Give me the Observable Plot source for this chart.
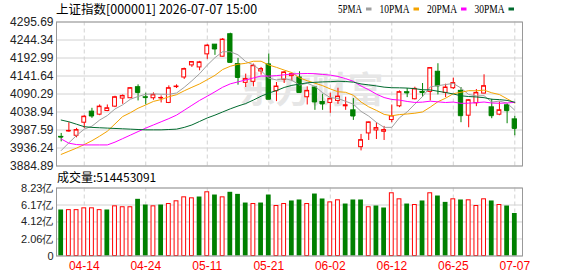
<!DOCTYPE html>
<html><head><meta charset="utf-8">
<script src="https://cdn.jsdelivr.net/npm/d3@7"></script>
<script src="https://cdn.jsdelivr.net/npm/@observablehq/plot@0.6"></script>
<style>
body{margin:0;background:#fff;}
#wrap{position:relative;width:578px;height:276px;overflow:hidden;background:#fff;}
#wrap svg{position:absolute;left:0;}
</style></head><body><div id="wrap"></div>
<script>
// ---------- data ----------
const title = "上证指数[000001] 2026-07-07 15:00";
const volLabel = "成交量:514453091";
const watermark = "东方财富";
const dates = ["04-09","04-10","04-13","04-14","04-15","04-16","04-17","04-20","04-21","04-22",
"04-23","04-24","04-27","04-28","04-29","04-30","05-06","05-07","05-08","05-11",
"05-12","05-13","05-14","05-15","05-18","05-19","05-20","05-21","05-22","05-25",
"05-26","05-27","05-28","05-29","06-01","06-02","06-03","06-04","06-05","06-08",
"06-09","06-10","06-11","06-12","06-15","06-16","06-17","06-18","06-22","06-23",
"06-24","06-25","06-26","06-29","06-30","07-01","07-02","07-03","07-06","07-07"];
const xTickLabels = ["04-14","04-24","05-11","05-21","06-02","06-12","06-25","07-07"];
const yTicks = [3884.89,3936.24,3987.59,4038.94,4090.29,4141.64,4192.99,4244.34,4295.69];
const volTicks = [0,2.06,4.12,6.17,8.23];
const volTickLabels = ["0","2.06亿","4.12亿","6.17亿","8.23亿"];

const open = [3968.0,3984.0,3971.1,4008.4,4039.9,4031.3,4041.8,4054.2,4077.2,4078.2,
4109.7,4081.0,4078.2,4078.5,4064.8,4110.0,4137.4,4171.9,4166.1,4203.4,
4231.1,4196.7,4260.8,4175.7,4122.1,4125.0,4154.6,4174.7,4098.2,4130.7,
4141.3,4137.4,4081.0,4108.8,4067.6,4064.8,4070.5,4055.2,4043.7,3938.6,
3977.8,3986.3,3982.5,4016.0,4055.2,4095.4,4075.3,4096.3,4096.3,4153.7,
4093.4,4106.8,4099.2,4028.4,4063.8,4091.5,4052.3,4031.3,4058.1,4017.9];
const high = [3977.8,4008.4,3992.1,4028.4,4049.5,4059.0,4059.0,4083.9,4087.7,4108.8,
4116.4,4092.5,4093.5,4084.8,4113.5,4116.4,4164.2,4182.4,4183.3,4231.1,
4231.5,4248.4,4263.7,4191.9,4147.0,4175.7,4166.1,4204.4,4123.1,4154.6,
4148.9,4153.7,4110.7,4111.6,4089.6,4092.5,4106.8,4081.0,4077.2,3974.9,
4010.3,4008.4,3997.8,4059.0,4099.2,4105.9,4109.7,4120.2,4165.2,4176.6,
4118.3,4135.5,4108.8,4074.3,4103.0,4145.1,4075.3,4067.6,4061.0,4026.5];
const low = [3953.8,3981.6,3965.3,3992.1,4020.8,4028.4,4039.9,4051.4,4060.9,4077.2,
4070.5,4059.0,4072.4,4064.8,4062.9,4105.9,4131.7,4166.1,4156.6,4189.1,
4200.5,4195.8,4179.5,4115.4,4108.8,4110.7,4144.1,4074.3,4068.6,4120.2,
4126.9,4093.4,4059.0,4043.7,4043.7,4035.1,4060.9,4043.7,4015.0,3928.0,
3957.7,3960.5,3957.7,4008.4,4051.4,4080.0,4073.4,4081.0,4070.5,4087.7,
4080.0,4103.0,4008.4,3994.0,4054.2,4090.6,4019.8,4028.4,4005.5,3971.1];
const close = [3967.2,3985.0,3987.3,4025.6,4027.5,4054.2,4049.5,4081.0,4084.8,4106.8,
4094.4,4080.0,4087.7,4079.0,4106.8,4111.6,4161.3,4181.4,4180.5,4228.3,
4218.7,4245.5,4180.5,4137.4,4132.7,4170.9,4161.3,4075.3,4111.6,4151.8,
4147.0,4094.4,4099.2,4067.6,4061.9,4076.2,4082.9,4058.1,4027.5,3958.6,
4009.3,3993.0,3987.3,4027.5,4095.4,4093.4,4104.9,4094.4,4164.2,4113.5,
4108.8,4121.2,4028.4,4072.4,4093.4,4112.6,4028.4,4043.7,4042.8,3992.1];
// volume in 亿 (1e8 shares)
const volume = [5.57,5.55,5.55,5.77,5.77,5.55,5.57,6.01,5.90,5.90,
6.86,6.17,6.01,6.17,6.29,6.62,7.10,6.98,7.14,7.71,
7.38,7.10,7.71,7.46,6.41,6.29,6.41,7.38,6.05,6.29,
6.66,6.78,6.29,7.50,6.90,6.49,6.74,6.29,6.78,6.78,
5.90,6.05,5.81,7.59,6.86,6.29,6.17,6.66,7.59,7.26,
6.49,6.86,6.78,6.74,6.05,6.86,6.66,6.17,6.05,5.1445];
const ma5 = [3929,3951,3972,3990,3998.5,4015.9,4028.8,4047.6,4059.4,4075.3,
4083.3,4089.4,4090.7,4089.6,4089.6,4093.0,4109.3,4128.0,4148.3,4172.6,
4194.0,4210.9,4210.7,4202.1,4183.0,4173.4,4156.6,4135.5,4130.4,4134.2,
4129.4,4116.0,4120.8,4112.0,4094.0,4079.9,4077.6,4069.3,4061.3,4040.7,
4027.3,4009.3,3995.1,3995.1,4022.5,4039.3,4061.7,4083.1,4110.5,4114.1,
4117.2,4120.4,4107.2,4088.9,4084.8,4085.6,4067.0,4070.1,4064.2,4043.9];
const ma10 = [3918,3927,3936,3946,3957,3970,3984,4005,4026,4036.9,
4049.6,4059.1,4069.2,4074.5,4082.5,4088.2,4099.4,4109.4,4119.0,4131.1,
4143.5,4160.1,4169.4,4175.2,4177.8,4183.7,4183.8,4173.1,4166.3,4158.6,
4151.4,4136.3,4128.2,4121.2,4114.1,4104.7,4096.8,4095.1,4086.7,4067.4,
4053.6,4043.5,4032.2,4028.2,4031.6,4033.3,4035.5,4039.1,4052.8,4068.3,
4078.3,4091.1,4095.2,4099.7,4099.5,4101.4,4093.7,4088.7,4076.6,4064.4];
const ma20 = [3962,3950,3946,3945,3945,3945,3945,3953,3963,3973,
3983,3993,4002,4011,4020,4030,4044,4058,4072,4084.0,
4096.6,4109.6,4119.3,4124.9,4130.2,4136.0,4141.6,4141.3,4142.7,4144.9,
4147.5,4148.2,4148.8,4148.2,4146.0,4144.2,4140.3,4134.1,4126.5,4113.0,
4102.5,4089.9,4080.2,4074.7,4072.9,4069.0,4066.2,4067.1,4069.8,4067.9,
4066.0,4067.3,4063.7,4064.0,4065.6,4067.4,4064.6,4063.9,4064.7,4066.4];
const ma30 = [4016,4011,4004,3997,3995,3994,3993,3992,3991,3990,
3989,3988,3988,3988,3989,3990,3995,4002,4012,4022,
4030,4039,4048,4056,4063,4073,4084,4093,4100,4108.9,
4114.9,4118.5,4122.3,4123.6,4124.8,4125.5,4126.7,4125.9,4124.0,4119.0,
4116.2,4113.3,4109.9,4108.2,4107.9,4107.2,4105.4,4102.4,4102.0,4098.1,
4094.5,4090.3,4085.2,4083.1,4081.8,4079.8,4075.3,4074.3,4072.0,4066.7];
const maNames = ["5PMA","10PMA","20PMA","30PMA"];

// ---------- styles ----------
const RED = "#ff0000", GREEN = "#008000";
const maColors = ["#a0a0a0","#f4a300","#ff00ff","#006a2e"];
const FONT = '"Liberation Sans", Arial, sans-serif';
const CJK = '"Noto Sans CJK SC", "Liberation Sans", sans-serif';
const GRID = "#d2d2d2", FRAME = "#999999";

const candles = dates.map((d, i) => ({i, date: d, open: open[i], high: high[i], low: low[i], close: close[i], vol: volume[i]}));
const up = candles.filter(d => d.close >= d.open);
const down = candles.filter(d => d.close < d.open);
const volUp = candles.filter((d, i) => d.close >= (i ? close[i - 1] : d.open));
const volDown = candles.filter((d, i) => d.close < (i ? close[i - 1] : d.open));
const tickIdx = xTickLabels.map(l => dates.indexOf(l));
const xDomain = [-0.61, 60];
const mas = [ma5, ma10, ma20, ma30];

const wrap = document.getElementById("wrap");

const main = Plot.plot({
  width: 578, height: 172,
  marginLeft: 56, marginRight: 56, marginTop: 21.5, marginBottom: 6.5,
  x: {domain: xDomain, axis: null},
  y: {domain: [yTicks[0], yTicks[yTicks.length - 1]], label: null},
  style: {background: "transparent", overflow: "visible"},
  marks: [
    Plot.gridY(yTicks, {stroke: GRID, strokeOpacity: 1}),
    Plot.gridX(tickIdx, {stroke: GRID, strokeOpacity: 1, strokeDasharray: "4,3"}),
    Plot.text([watermark], {text: d => d, frameAnchor: "middle", dx: 22, dy: -3, fontSize: 36, fontWeight: "bold", fill: "#e6e6e6", fontFamily: CJK}),
    Plot.ruleX(up, {x: "i", y1: "low", y2: "high", stroke: RED}),
    Plot.ruleX(down, {x: "i", y1: "low", y2: "high", stroke: GREEN}),
    Plot.rect(up, {x1: d => d.i - 0.25, x2: d => d.i + 0.25, y1: "open", y2: "close", fill: "white", stroke: RED}),
    Plot.rect(down, {x1: d => d.i - 0.28, x2: d => d.i + 0.28, y1: "open", y2: "close", fill: GREEN, stroke: GREEN}),
    Plot.ruleY(up, {y: "close", x1: d => d.i - 0.25, x2: d => d.i + 0.25, stroke: RED}),
    Plot.ruleY(down, {y: "close", x1: d => d.i - 0.28, x2: d => d.i + 0.28, stroke: GREEN}),
    ...mas.map((m, k) => Plot.line(m, {x: (d, i) => i, y: d => d, stroke: maColors[k], strokeWidth: 1})),
    Plot.axisY({ticks: yTicks, tickFormat: d3.format(".2f"), tickSize: 0, tickPadding: 3, label: null, fontSize: 12, fill: "#222", fontFamily: FONT}),
    Plot.frame({stroke: FRAME})
  ]
});
main.style.top = "0px";
wrap.appendChild(main);

const vol = Plot.plot({
  width: 578, height: 104,
  marginLeft: 56, marginRight: 56, marginTop: 15.5, marginBottom: 20.5,
  x: {domain: xDomain, label: null},
  y: {domain: [0, volTicks[volTicks.length - 1]], label: null},
  style: {background: "transparent", overflow: "visible"},
  marks: [
    Plot.gridY(volTicks, {stroke: GRID, strokeOpacity: 1}),
    Plot.gridX(tickIdx, {stroke: GRID, strokeOpacity: 1, strokeDasharray: "4,3"}),
    Plot.rect(volDown, {x1: d => d.i - 0.31, x2: d => d.i + 0.31, y1: 0, y2: "vol", fill: GREEN}),
    Plot.rect(volUp, {x1: d => d.i - 0.25, x2: d => d.i + 0.25, y1: 0, y2: "vol", fill: "white", stroke: RED}),
    Plot.axisY({ticks: volTicks, tickFormat: v => volTickLabels[volTicks.indexOf(v)], tickSize: 0, tickPadding: 3, label: null, fontSize: 11, fill: "#222", fontFamily: FONT}),
    Plot.axisX({ticks: tickIdx, tickFormat: i => dates[i], tickSize: 0, tickPadding: 5, label: null, fontSize: 12, fill: RED, fontFamily: FONT}),
    Plot.frame({stroke: FRAME})
  ]
});
vol.style.top = "172px";
wrap.appendChild(vol);

// overlay texts: title, legend, volume label
const ov = d3.create("svg").attr("width", 578).attr("height", 276).style("top", "0px");
ov.append("text").attr("x", 56).attr("y", 14).attr("font-family", CJK).attr("font-size", 12.5).attr("fill", "#000").text(title);
let lx = 338;
maNames.forEach((name, k) => {
  const w = 6 * name.length;
  ov.append("text").attr("x", lx).attr("y", 13).attr("font-family", '"Liberation Serif", serif').attr("font-size", 12.5)
    .attr("textLength", w).attr("lengthAdjust", "spacingAndGlyphs").attr("fill", "#000").text(name);
  ov.append("rect").attr("x", lx + w + 4).attr("y", 7.5).attr("width", 5.5).attr("height", 3).attr("fill", maColors[k]);
  lx += w + 4 + 5.5 + 8;
});
ov.append("text").attr("x", 57).attr("y", 182).attr("font-family", CJK).attr("font-size", 12).attr("fill", "#000").text(volLabel);
wrap.appendChild(ov.node());
</script></body></html>
